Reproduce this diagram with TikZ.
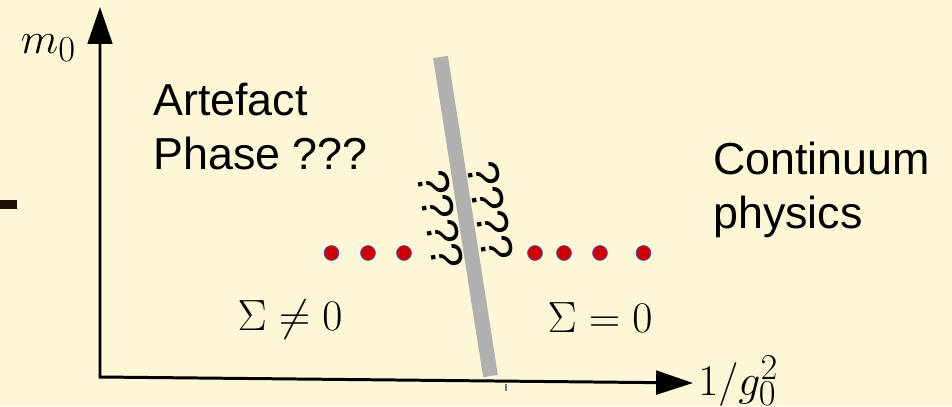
\documentclass[tikz,border=0pt]{standalone}
\usepackage{fontspec}
\setmainfont{Liberation Sans}
\usetikzlibrary{arrows.meta}
\definecolor{bgcream}{RGB}{253,247,216}
\definecolor{bargray}{RGB}{176,176,176}
\definecolor{sitered}{RGB}{204,0,0}
\definecolor{siteblue}{RGB}{70,100,180}

\begin{document}
\begin{tikzpicture}[x=0.02cm, y=-0.02cm,
    axis/.style={line width=1.7pt, {Triangle[length=21pt, width=14pt]}-{Triangle[length=21pt, width=13.5pt]}},
    lbl/.style={font=\fontsize{25.5}{30.5}\selectfont, align=left, inner sep=0pt},
    mathlbl/.style={font=\fontsize{24.88}{29}\selectfont, inner sep=0pt},
    qmarks/.style={font=\fontsize{25.5}{30.5}\selectfont, inner sep=0pt, rotate=-80},
    site/.style={circle, fill=sitered, draw=siteblue, line width=0.4pt, minimum size=8.5pt, inner sep=0pt}]
    \fill[bgcream] (0,0) rectangle (952,406);
    \useasboundingbox (0,0) rectangle (952,406);
    \coordinate (o) at (100,377);
    \coordinate (ytip) at (100,7);
    \coordinate (xtip) at (693,383);
    \coordinate (bartop) at (440.5,57);
    \coordinate (barbot) at (490.5,376);
    \coordinate (tick) at (506,384);
    \coordinate (dashl) at (0,204.5);
    \draw[bargray, line width=8.5pt] (bartop) -- (barbot);
    \draw[axis] (ytip) -- (o) -- (xtip);
    \draw[bargray!70!black, line width=0.6pt] (tick) -- ++(0,7);
    \draw[black!85!brown, line width=5pt] (dashl) -- ++(17,0);
    \node[mathlbl, anchor=base] (m0) at (48.5,53) {$m_0$};
    \node[mathlbl, anchor=base west] (ginv) at (698,395) {$1/g_0^2$};
    \node[lbl, anchor=north west] (artefact) at (153,83) {Artefact\\Phase ???};
    \node[lbl, anchor=north west] (continuum) at (713,142) {Continuum\\physics};
    \node[mathlbl, anchor=base] (signz) at (290,330) {$\Sigma\neq0$};
    \node[mathlbl, anchor=base] (sigz) at (600,332) {$\Sigma=0$};
    \node[qmarks] (qleft) at (440.5,219.5) {????};
    \node[qmarks] (qright) at (490.5,211) {????};
    \foreach \x [count=\i] in {331.5,368,404,535,564,600,643.5}
        \node[site] (site-\i) at (\x,253) {};
\end{tikzpicture}
\end{document}
